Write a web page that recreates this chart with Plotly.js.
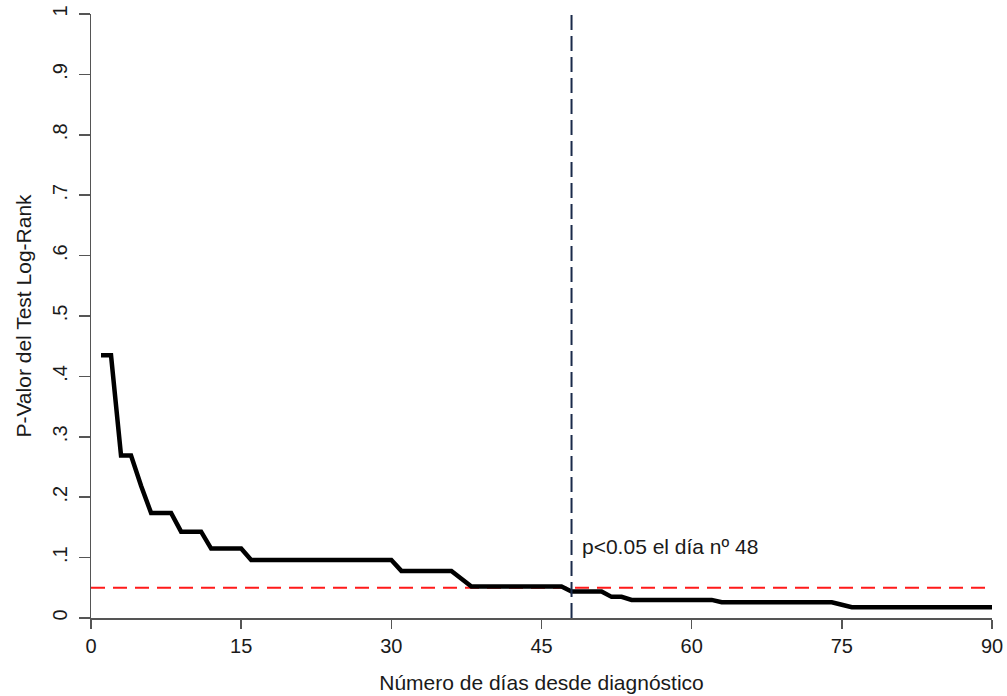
<!DOCTYPE html>
<html>
<head>
<meta charset="utf-8">
<script src="https://cdn.plot.ly/plotly-3.0.1.min.js"></script>
<style>html,body{margin:0;padding:0;background:#fff;}#chart{width:1007px;height:696px;}</style>
</head>
<body>
<div id="chart"></div>
<script>
var days = [1,2,3,4,5,6,7,8,9,10,11,12,13,14,15,16,17,18,19,20,21,22,23,24,25,26,27,28,29,30,
31,32,33,34,35,36,37,38,39,40,41,42,43,44,45,46,47,48,49,50,51,52,53,54,55,56,57,58,59,60,
61,62,63,64,65,66,67,68,69,70,71,72,73,74,75,76,77,78,79,80,81,82,83,84,85,86,87,88,89,90];
var pValues = [0.435,0.435,0.269,0.269,0.219,0.174,0.174,0.174,0.143,0.143,0.143,0.115,0.115,0.115,0.115,
0.096,0.096,0.096,0.096,0.096,0.096,0.096,0.096,0.096,0.096,0.096,0.096,0.096,0.096,0.096,
0.078,0.078,0.078,0.078,0.078,0.078,0.065,0.052,0.052,0.052,0.052,0.052,0.052,0.052,0.052,0.052,0.052,
0.044,0.044,0.044,0.044,0.035,0.035,0.030,0.030,0.030,0.030,0.030,0.030,0.030,0.030,0.030,
0.026,0.026,0.026,0.026,0.026,0.026,0.026,0.026,0.026,0.026,0.026,0.026,0.022,
0.018,0.018,0.018,0.018,0.018,0.018,0.018,0.018,0.018,0.018,0.018,0.018,0.018,0.018,0.018];
var threshold = 0.05;
var signifDay = 48;
var xTicks = [0,15,30,45,60,75,90];
var yTicks = [0,0.1,0.2,0.3,0.4,0.5,0.6,0.7,0.8,0.9,1];
var yTickText = ["0",".1",".2",".3",".4",".5",".6",".7",".8",".9","1"];
var annText = "p<0.05 el día nº 48";

var font = "Liberation Sans, Arial, sans-serif";
var txt = "#1a1a1a";
var traces = [
  {x:[0,90], y:[threshold,threshold], mode:"lines", line:{color:"#ff1a1a", width:2, dash:"14px,8px"}, hoverinfo:"skip"},
  {x:days, y:pValues, mode:"lines", line:{color:"#000", width:4.5}, hoverinfo:"skip"}
];
var layout = {
  width:1007, height:696,
  margin:{l:91, r:15, t:14, b:78},
  paper_bgcolor:"#fff", plot_bgcolor:"#fff",
  showlegend:false,
  font:{family:font, size:21, color:txt},
  xaxis:{range:[0,90], tickvals:xTicks, ticks:"outside", ticklen:9, tickcolor:"#555", tickwidth:1.5,
    showline:true, linecolor:"#555", linewidth:1.5, showgrid:false, zeroline:false,
    tickfont:{family:font, size:20, color:txt},
    title:{text:"Número de días desde diagnóstico", font:{family:font, size:21, color:txt}, standoff:20}},
  yaxis:{range:[0,1], tickvals:yTicks, ticktext:yTickText, tickangle:-90, ticks:"outside", ticklen:11, tickcolor:"#555", tickwidth:1.5,
    ticklabelstandoff:4,
    showline:true, linecolor:"#555", linewidth:1.5, showgrid:false, zeroline:false,
    tickfont:{family:font, size:20, color:txt},
    title:{text:"P-Valor del Test Log-Rank", font:{family:font, size:21, color:txt}, standoff:11}},
  shapes:[
    {type:"line", xref:"x", yref:"paper", x0:signifDay, x1:signifDay, y0:0, y1:1,
     line:{color:"#1a2a4a", width:2, dash:"15px,6px"}}
  ],
  annotations:[
    {x:signifDay, y:0.118, xref:"x", yref:"y", text:annText, showarrow:false, xanchor:"left", xshift:8,
     font:{family:font, size:21, color:txt}}
  ]
};
Plotly.newPlot("chart", traces, layout, {displayModeBar:false, staticPlot:true});
</script>
</body>
</html>
